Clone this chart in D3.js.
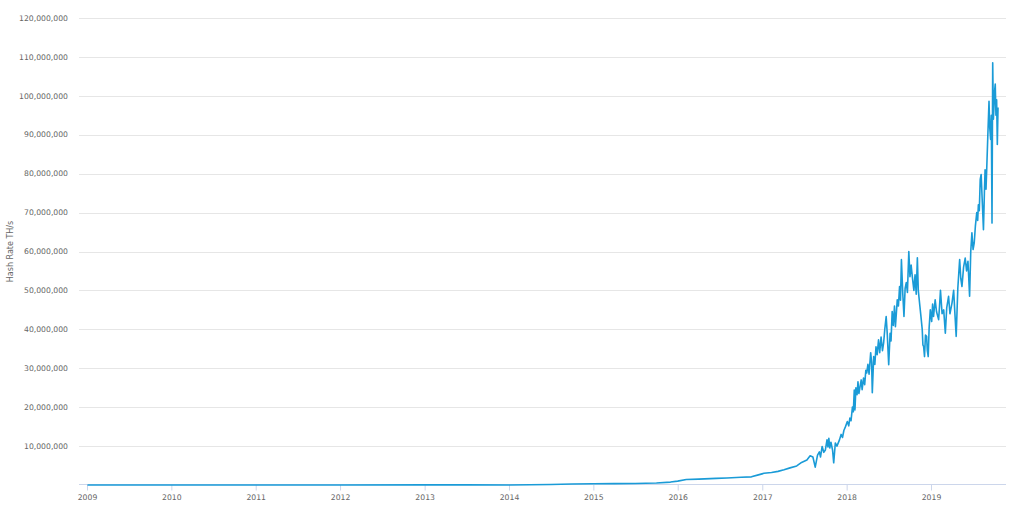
<!DOCTYPE html>
<html>
<head>
<meta charset="utf-8">
<script src="https://cdn.jsdelivr.net/npm/d3@7/dist/d3.min.js"></script>
<style>
  html, body { margin: 0; padding: 0; background: #fff; }
  svg { display: block; }
</style>
</head>
<body>
<svg id="chart" width="1024" height="513"></svg>
<script>
// ---- data (hash rate in millions of TH/s) ----
const dates = [
  "2009-01-03","2010-01-01","2011-01-01","2012-01-01","2013-01-01","2013-07-01","2014-01-01","2014-04-01","2014-07-01","2014-10-01",
  "2015-01-01","2015-04-01","2015-07-01","2015-10-01","2015-12-01","2016-01-01","2016-02-07","2016-04-01","2016-06-15","2016-08-01",
  "2016-10-01","2016-11-15","2016-12-15","2017-01-08","2017-02-10","2017-03-10","2017-04-05","2017-05-01","2017-05-30","2017-06-20",
  "2017-07-13","2017-07-27","2017-08-08","2017-08-18","2017-08-28","2017-09-05","2017-09-10","2017-09-17","2017-09-24","2017-10-01",
  "2017-10-08","2017-10-12","2017-10-16","2017-10-20","2017-10-25","2017-11-01","2017-11-06","2017-11-13","2017-11-20","2017-12-01",
  "2017-12-08","2017-12-14","2017-12-20","2017-12-27","2018-01-04","2018-01-10","2018-01-15","2018-01-20","2018-01-26","2018-01-30",
  "2018-02-03","2018-02-06","2018-02-10","2018-02-15","2018-02-19","2018-02-23","2018-02-28","2018-03-05","2018-03-09","2018-03-15",
  "2018-03-20","2018-03-25","2018-03-29","2018-04-03","2018-04-08","2018-04-15","2018-04-19","2018-04-22","2018-04-28","2018-05-03",
  "2018-05-08","2018-05-13","2018-05-19","2018-05-24","2018-05-30","2018-06-05","2018-06-10","2018-06-15","2018-06-21","2018-06-26",
  "2018-07-02","2018-07-08","2018-07-12","2018-07-17","2018-07-22","2018-07-27","2018-07-31","2018-08-04","2018-08-08","2018-08-13",
  "2018-08-18","2018-08-22","2018-08-26","2018-09-01","2018-09-06","2018-09-11","2018-09-16","2018-09-21","2018-09-27","2018-10-02",
  "2018-10-07","2018-10-12","2018-10-19","2018-10-24","2018-10-29","2018-11-03","2018-11-07","2018-11-14","2018-11-19","2018-11-24",
  "2018-11-27","2018-11-30","2018-12-04","2018-12-08","2018-12-13","2018-12-16","2018-12-20","2018-12-24","2018-12-29","2019-01-04",
  "2019-01-08","2019-01-12","2019-01-19","2019-01-25","2019-02-03","2019-02-07","2019-02-11","2019-02-18","2019-02-25","2019-03-04",
  "2019-03-10","2019-03-18","2019-03-24","2019-04-02","2019-04-09","2019-04-14","2019-04-20","2019-04-27","2019-05-05","2019-05-10",
  "2019-05-15","2019-05-22","2019-05-29","2019-06-04","2019-06-10","2019-06-17","2019-06-22","2019-06-27","2019-07-02","2019-07-07",
  "2019-07-12","2019-07-18","2019-07-22","2019-07-25","2019-07-29","2019-08-02","2019-08-06","2019-08-10","2019-08-16","2019-08-20",
  "2019-08-23","2019-08-27","2019-08-30","2019-09-04","2019-09-09","2019-09-12","2019-09-16","2019-09-19","2019-09-22","2019-09-25",
  "2019-09-28","2019-09-30","2019-10-03","2019-10-06","2019-10-09","2019-10-12","2019-10-15","2019-10-18"
];
const hashRateM = [
  0, 0.00001, 0.0001, 0.009, 0.02, 0.03, 0.012, 0.05, 0.13, 0.25,
  0.33, 0.35, 0.4, 0.5, 0.75, 1.0, 1.4, 1.5, 1.7, 1.8,
  2.0, 2.1, 2.6, 3.0, 3.2, 3.5, 3.9, 4.4, 4.9, 5.8,
  6.4, 7.5, 7.2, 4.6, 7.7, 8.5, 7.2, 9.9, 8.4, 9.0,
  11.6, 9.8, 12.0, 9.5, 11.0, 9.0, 5.7, 10.8, 10.0, 11.6,
  13.0, 12.2, 14.0, 15.0, 16.3, 15.2, 17.2, 16.5, 20.0, 18.8,
  24.4, 19.3, 25.0, 23.2, 26.5, 23.5, 25.3, 27.0, 24.5, 27.5,
  25.8, 29.5, 28.8, 31.0, 28.5, 34.0, 31.5, 23.7, 33.0, 31.0,
  35.5, 33.5, 37.3, 34.0, 38.0, 34.5, 36.5, 40.0, 43.3, 38.5,
  30.9, 39.0, 37.0, 44.6, 41.0, 46.0, 40.7, 44.0, 47.6, 46.0,
  51.0, 47.5, 57.9, 49.0, 43.3, 50.5, 52.0, 49.5, 60.0, 53.5,
  56.5, 53.6, 50.0, 54.0, 49.0, 58.4, 50.0, 45.9, 43.0, 40.0,
  36.0, 35.6, 33.0, 38.5, 38.2, 34.5, 33.0, 40.5, 45.0, 42.0,
  46.5, 43.3, 47.6, 44.5, 42.5, 46.0, 50.0, 44.0, 45.0, 39.0,
  45.5, 48.5, 44.0, 46.8, 50.0, 44.5, 38.2, 50.5, 57.9, 53.0,
  51.0, 56.0, 58.3, 55.0, 57.5, 48.5, 60.0, 64.8, 60.5, 62.2,
  66.5, 70.0, 68.0, 72.0, 70.5, 78.5, 79.8, 74.0, 65.6, 75.0,
  81.0, 76.0, 81.0, 90.0, 98.6, 92.0, 88.8, 95.0, 67.3, 108.5,
  94.0, 96.5, 101.0, 103.0, 95.0, 99.0, 87.5, 97.0
];
const yTicks = [10e6,20e6,30e6,40e6,50e6,60e6,70e6,80e6,90e6,100e6,110e6,120e6];
const xTickYears = [2009,2010,2011,2012,2013,2014,2015,2016,2017,2018,2019];
const yAxisTitle = "Hash Rate TH/s";

// ---- layout ----
const svg = d3.select("#chart");
const plotLeft = 79, plotRight = 1006, plotTop = 18, plotBottom = 485;
const parse = d3.timeParse("%Y-%m-%d");
const n = Math.min(dates.length, hashRateM.length);
const series = dates.slice(0, n).map((d, i) => ({ date: parse(d), value: hashRateM[i] * 1e6 }));

const x = d3.scaleTime()
  .domain([new Date(2009, 0, 1), new Date(2019, 0, 1)])
  .range([87, 931]);
const y = d3.scaleLinear().domain([0, 120e6]).range([plotBottom, plotTop]);

const fmt = d3.format(",");
const font = "DejaVu Sans, sans-serif";

// grid lines
svg.append("g").selectAll("line").data(yTicks).join("line")
  .attr("x1", plotLeft).attr("x2", plotRight)
  .attr("y1", d => Math.round(y(d)) + 0.5).attr("y2", d => Math.round(y(d)) + 0.5)
  .attr("stroke", "#e6e6e6").attr("stroke-width", 1);

// y labels
svg.append("g").selectAll("text").data(yTicks).join("text")
  .attr("x", 68).attr("y", d => y(d))
  .attr("dy", "0.35em").attr("text-anchor", "end")
  .attr("font-family", font).attr("font-size", 7.7).attr("fill", "#666666")
  .text(d => fmt(d));

// y title
svg.append("text")
  .attr("transform", `translate(10,${(plotTop + plotBottom) / 2}) rotate(-90)`)
  .attr("text-anchor", "middle").attr("dy", "0.35em")
  .attr("font-family", font).attr("font-size", 8).attr("fill", "#666666")
  .text(yAxisTitle);

// x axis
const xTicks = xTickYears.map(yr => new Date(yr, 0, 1));
const xAxis = d3.axisBottom(x).tickValues(xTicks).tickFormat(d3.timeFormat("%Y"))
  .tickSize(6).tickSizeOuter(0);
const gx = svg.append("g").attr("transform", `translate(0,${plotBottom - 0.5})`).call(xAxis);
gx.select(".domain").remove();
gx.append("line").attr("x1", plotLeft).attr("x2", plotRight).attr("y1", 0).attr("y2", 0)
  .attr("stroke", "#ccd6eb");
gx.selectAll(".tick line").attr("stroke", "#ccd6eb");
gx.selectAll(".tick text").attr("font-family", font).attr("font-size", 7.7)
  .attr("fill", "#666666").attr("dy", "0.9em");

// line
const line = d3.line().x(d => x(d.date)).y(d => y(d.value));
svg.append("path").datum(series)
  .attr("fill", "none").attr("stroke", "#1a9bd7").attr("stroke-width", 1.6)
  .attr("stroke-linejoin", "round")
  .attr("d", line);
</script>
</body>
</html>
